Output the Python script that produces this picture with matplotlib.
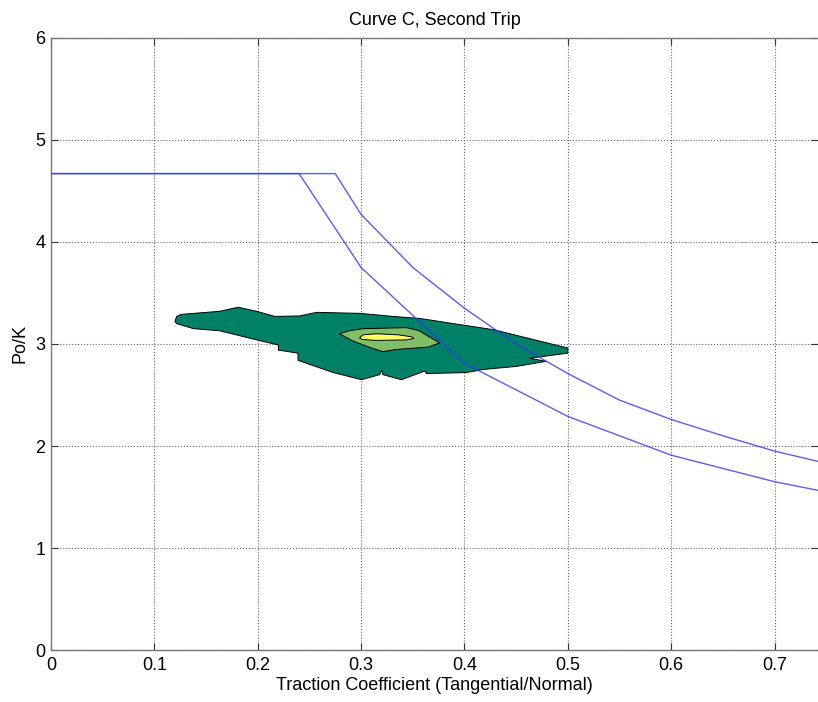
import matplotlib
matplotlib.use('Agg')
import matplotlib.pyplot as plt

plt.rcParams['font.family'] = ['Liberation Sans', 'DejaVu Sans']

# limit curves (Po/K against traction coefficient)
upper_x = [0.0, 0.275, 0.30, 0.35, 0.40, 0.45, 0.50, 0.55, 0.60, 0.65, 0.70, 0.75]
upper_y = [4.67, 4.67, 4.27, 3.75, 3.35, 3.00, 2.71, 2.45, 2.26, 2.10, 1.95, 1.83]
lower_x = [0.0, 0.24, 0.30, 0.40, 0.50, 0.60, 0.70, 0.75]
lower_y = [4.67, 4.67, 3.75, 2.81, 2.29, 1.91, 1.65, 1.55]

# contour level outlines
outer_x = [0.120, 0.1215, 0.126, 0.138, 0.163, 0.181, 0.199, 0.2166, 0.241, 0.257,
           0.299, 0.331, 0.357, 0.3955, 0.428, 0.500, 0.500, 0.463, 0.479, 0.450,
           0.418, 0.402, 0.363, 0.3617, 0.339, 0.321, 0.320, 0.318, 0.3005, 0.273,
           0.239, 0.239, 0.220, 0.220, 0.199, 0.163, 0.138, 0.1215]
outer_y = [3.22, 3.27, 3.29, 3.30, 3.32, 3.36, 3.32, 3.27, 3.275, 3.31,
           3.30, 3.27, 3.25, 3.19, 3.14, 2.96, 2.91, 2.86, 2.83, 2.78,
           2.75, 2.72, 2.71, 2.735, 2.65, 2.70, 2.745, 2.70, 2.65, 2.72,
           2.84, 2.91, 2.94, 2.99, 3.04, 3.13, 3.15, 3.20]
mid_x = [0.279, 0.289, 0.302, 0.344, 0.356, 0.376, 0.365, 0.333, 0.321, 0.310, 0.292]
mid_y = [3.10, 3.13, 3.15, 3.16, 3.13, 3.01, 2.97, 2.945, 2.925, 2.96, 3.03]
inner_x = [0.2985, 0.302, 0.315, 0.336, 0.349, 0.351, 0.344, 0.314, 0.301]
inner_y = [3.06, 3.09, 3.10, 3.09, 3.07, 3.055, 3.04, 3.035, 3.045]

level_colors = ['#008066', '#80bf66', '#ffff66']

fig = plt.figure(figsize=(8.18, 7.02), dpi=100)
ax = fig.add_axes([0.0623, 0.074, 0.9377, 0.872])

ax.fill(outer_x, outer_y, facecolor=level_colors[0], edgecolor='black', lw=0.7, zorder=2)
ax.fill(mid_x, mid_y, facecolor=level_colors[1], edgecolor='black', lw=0.7, zorder=3)
ax.fill(inner_x, inner_y, facecolor=level_colors[2], edgecolor='black', lw=0.7, zorder=4)

ax.plot(upper_x, upper_y, color='#3333ff', lw=1.0, alpha=0.8, zorder=5)
ax.plot(lower_x, lower_y, color='#3333ff', lw=1.0, alpha=0.8, zorder=5)

ax.set_xlim(0, 0.742)
ax.set_ylim(0, 6)
ax.set_xticks([0, 0.1, 0.2, 0.3, 0.4, 0.5, 0.6, 0.7])
ax.set_xticklabels(['0', '0.1', '0.2', '0.3', '0.4', '0.5', '0.6', '0.7'])
ax.set_yticks(range(0, 7))

ax.grid(True, linestyle=':', color='#666666', lw=0.8)
ax.set_axisbelow(True)
ax.tick_params(direction='in', top=True, right=True, length=5, labelsize=13,
               color='#333333')
ax.tick_params(axis='x', pad=5)
ax.tick_params(axis='y', pad=4)
for s in ax.spines.values():
    s.set_color('#777777')
    s.set_linewidth(1.0)
ax.spines['right'].set_visible(False)

ax.set_title('Curve C, Second Trip', fontsize=13, pad=9)
ax.set_xlabel('Traction Coefficient (Tangential/Normal)', fontsize=13, labelpad=2)
ax.set_ylabel('Po/K', fontsize=13, labelpad=5)

fig.savefig('out.png', dpi=100)
